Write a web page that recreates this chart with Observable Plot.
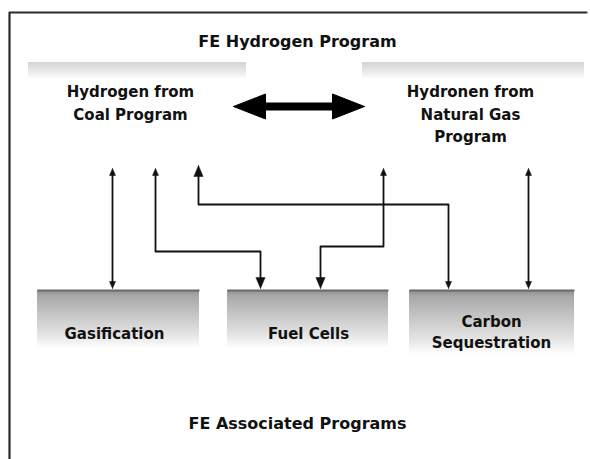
<!DOCTYPE html>
<html><head><meta charset="utf-8">
<script src="https://cdn.jsdelivr.net/npm/d3@7"></script>
<script src="https://cdn.jsdelivr.net/npm/@observablehq/plot@0.6"></script>
<style>html,body{margin:0;padding:0;background:#fff;overflow:hidden}</style>
</head><body><div id="chart"></div>
<script>
// ---- diagram content (diagram-space coordinates are the data of this figure) ----
const titleText = "FE Hydrogen Program";
const footerText = "FE Associated Programs";
const titlePos = [297, 41];
const footerPos = [297, 423];

const sourceLabels = ["Hydrogen from\nCoal Program", "Hydronen from\nNatural Gas\nProgram"];
const sourceX = [130, 470];
const sourceY = [101, 112];
const sourceBandX1 = [28, 362];
const sourceBandX2 = [246, 584];
const sourceBandY = [62, 78];

const targetLabels = ["Gasification", "Fuel Cells", "Carbon\nSequestration"];
const targetX1 = [37, 227, 409];
const targetX2 = [199, 388, 574];
const targetY1 = [290, 290, 290];
const targetY2 = [348, 348, 354];
const targetLabelX = [114, 308, 491];
const targetLabelY = [332, 332, 330];

const linkIds = ["coal-gasification", "coal-fuelcells", "coal-carbon", "gas-fuelcells", "gas-carbon"];
const linkPaths = [
  [[112, 168], [112, 288]],
  [[155, 168], [155, 251], [260, 251], [260, 288]],
  [[198, 165], [198, 204], [448, 204], [448, 288]],
  [[383, 168], [383, 246], [320, 246], [320, 288]],
  [[528, 168], [528, 288]]
];
const linkStartHead = ["small", "small", "large", "small", "small"];
const linkEndHead = ["small", "large", "small", "large", "small"];

const exchangeArrow = [[233, 106], [364, 106]]; // two-way arrow between the source programs

// ---- styles ----
const headSize = {small: {len: 7, half: 3}, large: {len: 11, half: 4.6}};
const ink = "#111";
const font = "DejaVu Sans";

// ---- build geometry ----
function triangle(tip, dir, len, half) {
  const [tx, ty] = tip, [dx, dy] = dir;
  const bx = tx - dx * len, by = ty - dy * len;
  const px = -dy, py = dx;
  return [[tx, ty], [bx + px * half, by + py * half], [bx - px * half, by - py * half], [tx, ty]];
}
function unit(a, b) { const dx = b[0] - a[0], dy = b[1] - a[1], l = Math.hypot(dx, dy); return [dx / l, dy / l]; }

const shaftRows = [], headRows = [];
linkPaths.forEach((pts, i) => {
  const id = linkIds[i];
  const p = pts.map(d => d.slice());
  const n = p.length;
  const dStart = unit(p[1], p[0]);
  const dEnd = unit(p[n - 2], p[n - 1]);
  const hs = headSize[linkStartHead[i]], he = headSize[linkEndHead[i]];
  triangle(pts[0], dStart, hs.len, hs.half).forEach(([x, y]) => headRows.push({id: id + "-s", x, y}));
  triangle(pts[n - 1], dEnd, he.len, he.half).forEach(([x, y]) => headRows.push({id: id + "-e", x, y}));
  p[0] = [p[0][0] - dStart[0] * hs.len * 0.6, p[0][1] - dStart[1] * hs.len * 0.6];
  p[n - 1] = [p[n - 1][0] - dEnd[0] * he.len * 0.6, p[n - 1][1] - dEnd[1] * he.len * 0.6];
  p.forEach(([x, y]) => shaftRows.push({id, x, y}));
});

// big exchange arrow
const bigHead = {len: 32, half: 12.5};
const [ea, eb] = exchangeArrow;
const bigRows = [];
triangle(ea, unit(eb, ea), bigHead.len, bigHead.half).forEach(([x, y]) => bigRows.push({id: "L", x, y}));
triangle(eb, unit(ea, eb), bigHead.len, bigHead.half).forEach(([x, y]) => bigRows.push({id: "R", x, y}));
const bigShaft = [{x: ea[0] + bigHead.len - 2, y: ea[1]}, {x: eb[0] - bigHead.len + 2, y: eb[1]}];

const sources = sourceLabels.map((t, i) => ({t, x: sourceX[i], y: sourceY[i], x1: sourceBandX1[i], x2: sourceBandX2[i]}));
const targets = targetLabels.map((t, i) => ({t, x1: targetX1[i], x2: targetX2[i], y1: targetY1[i], y2: targetY2[i], lx: targetLabelX[i], ly: targetLabelY[i]}));
const frame = [{x: 9, y: 459}, {x: 9, y: 12}, {x: 586, y: 12}];

const chart = Plot.plot({
  width: 590, height: 459,
  margin: 0,
  x: {domain: [0, 590], range: [0, 590], axis: null},
  y: {domain: [0, 459], range: [0, 459], axis: null},
  style: {fontFamily: font, background: "white"},
  marks: [
    Plot.line(frame, {x: "x", y: "y", stroke: "#2a2a2a", strokeWidth: 2.2}),
    // faint bands of the source program boxes
    Plot.rect(sources, {x1: "x1", x2: "x2", y1: () => sourceBandY[0], y2: () => sourceBandY[1], fill: "url(#bandGrad)", className: "band"}),
    // target boxes
    Plot.rect(targets, {x1: "x1", x2: "x2", y1: "y1", y2: "y2", fill: "url(#boxGrad)"}),
    Plot.link(targets, {x1: "x1", x2: "x2", y1: "y1", y2: "y1", stroke: "#6a6a6a", strokeWidth: 2}),
    // connectors
    Plot.line(shaftRows, {x: "x", y: "y", z: "id", stroke: ink, strokeWidth: 1.8, curve: "linear"}),
    Plot.line(headRows, {x: "x", y: "y", z: "id", fill: ink, stroke: ink, strokeWidth: 0.5}),
    // exchange arrow
    Plot.line(bigShaft, {x: "x", y: "y", stroke: "#000", strokeWidth: 8}),
    Plot.line(bigRows, {x: "x", y: "y", z: "id", fill: "#000", stroke: "#000", strokeWidth: 1, strokeLinejoin: "round"}),
    // text
    Plot.text([titleText], {x: () => titlePos[0], y: () => titlePos[1], text: d => d, fontSize: 16, fontWeight: "bold", fill: ink}),
    Plot.text(sources, {x: "x", y: "y", text: "t", fontSize: 15, fontWeight: "bold", fill: ink, lineHeight: 1.5}),
    Plot.text(targets, {x: "lx", y: "ly", text: "t", fontSize: 15, fontWeight: "bold", fill: ink, lineHeight: 1.45}),
    Plot.text([footerText], {x: () => footerPos[0], y: () => footerPos[1], text: d => d, fontSize: 16, fontWeight: "bold", fill: ink})
  ]
});

const defs = d3.select(chart).insert("defs", ":first-child");
const bg = defs.append("linearGradient").attr("id", "boxGrad").attr("x1", 0).attr("y1", 0).attr("x2", 0).attr("y2", 1);
[[0, "#8e8e8e"], [0.1, "#a8a8a8"], [0.4, "#c4c4c4"], [0.7, "#dedede"], [0.9, "#f2f2f2"], [1, "#ffffff"]]
  .forEach(([o, c]) => bg.append("stop").attr("offset", o).attr("stop-color", c));
const bd = defs.append("linearGradient").attr("id", "bandGrad").attr("x1", 0).attr("y1", 0).attr("x2", 0).attr("y2", 1);
[[0, "#d4d4d4"], [0.4, "#e2e2e2"], [1, "#fafafa"]]
  .forEach(([o, c]) => bd.append("stop").attr("offset", o).attr("stop-color", c));
defs.append("filter").attr("id", "soft").attr("x", "-10%").attr("y", "-60%").attr("width", "120%").attr("height", "220%")
  .append("feGaussianBlur").attr("stdDeviation", 1.5);
d3.select(chart).selectAll("rect[fill='url(#bandGrad)']").attr("filter", "url(#soft)");

document.getElementById("chart").appendChild(chart);
</script>
</body></html>
